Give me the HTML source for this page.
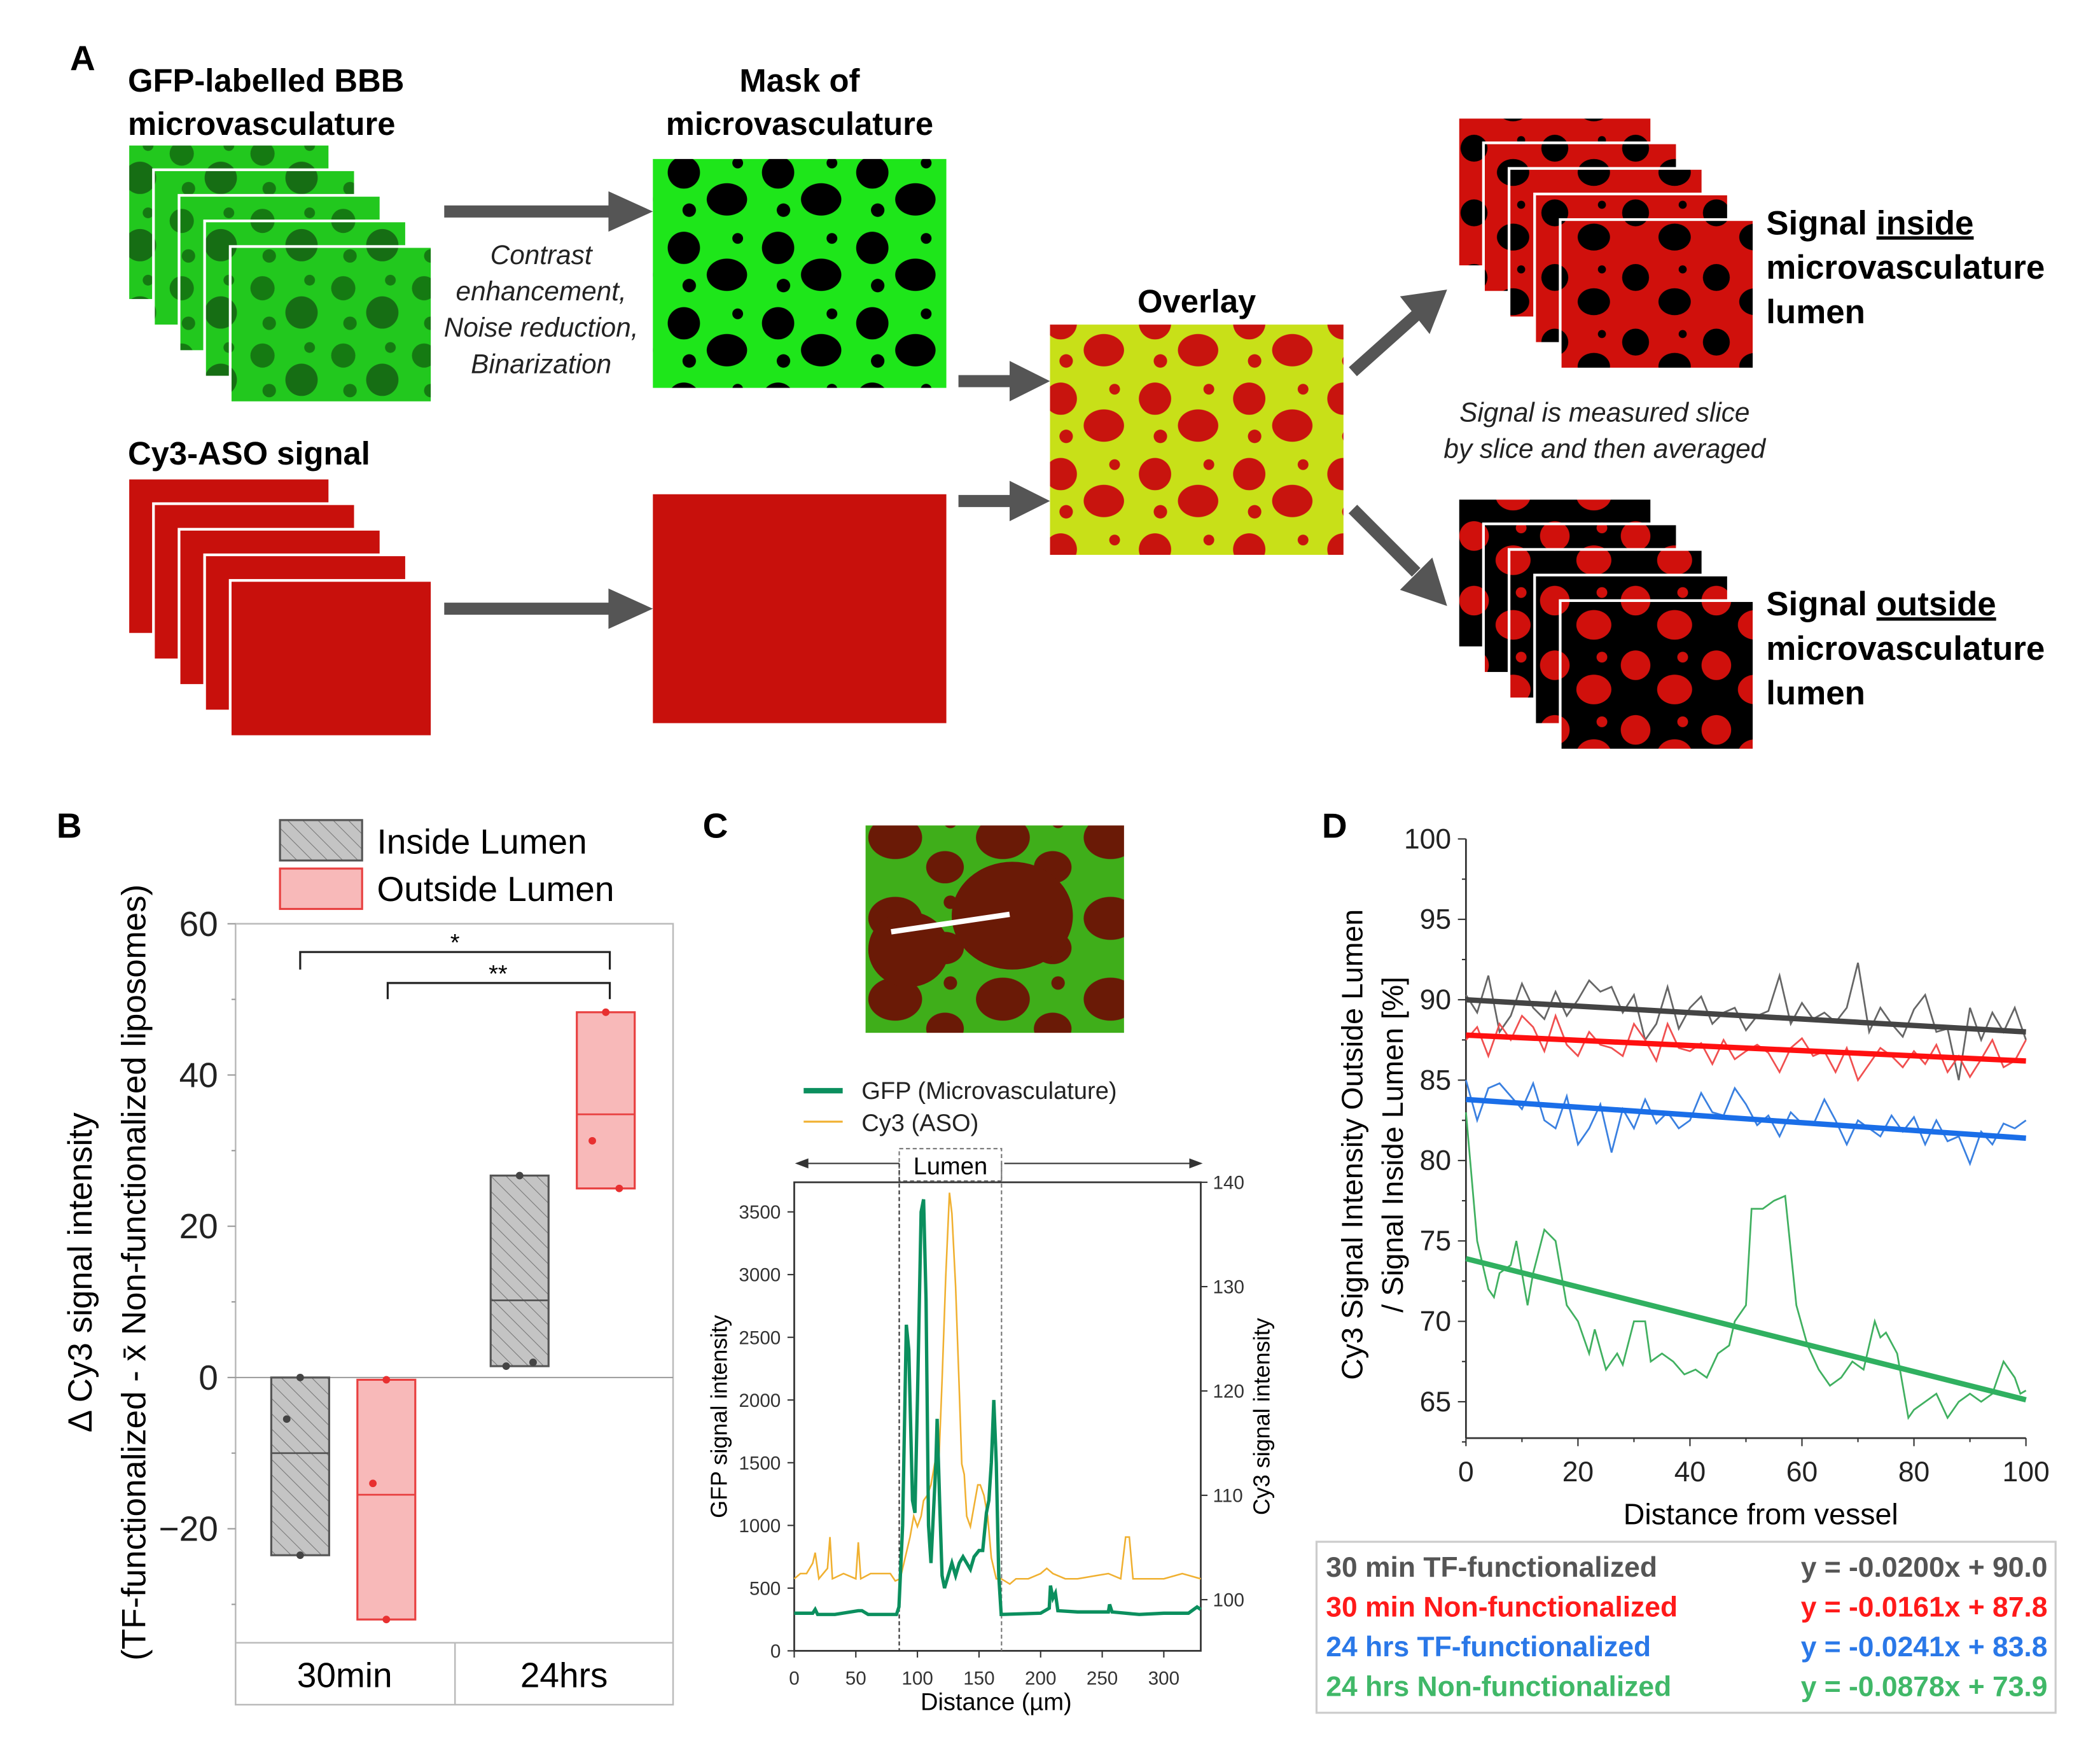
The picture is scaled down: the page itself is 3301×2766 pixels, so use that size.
<!DOCTYPE html>
<html><head><meta charset="utf-8"><style>
html,body{margin:0;padding:0;background:#fff}
svg{display:block;font-family:"Liberation Sans",Arial,sans-serif}
</style></head><body>
<svg id="fig" width="3301" height="2766" viewBox="0 0 1560 1307" xmlns="http://www.w3.org/2000/svg">
<defs>
<pattern id="hatch" width="8" height="8" patternUnits="userSpaceOnUse" patternTransform="rotate(-45)">
<rect width="8" height="8" fill="#c4c4c4"/><line x1="0" y1="0" x2="0" y2="8" stroke="#777" stroke-width="1"/></pattern>
<pattern id="hatchL" width="8" height="8" patternUnits="userSpaceOnUse" patternTransform="rotate(-45)">
<rect width="8" height="8" fill="#c4c4c4"/><line x1="0" y1="0" x2="0" y2="8" stroke="#777" stroke-width="1"/></pattern>
<pattern id="blobG" width="60" height="50" patternUnits="userSpaceOnUse">
<rect width="60" height="50" fill="#22c81e"/><circle cx="15" cy="14" r="9" fill="#157a12"/><circle cx="44" cy="32" r="12" fill="#166e14"/><circle cx="20" cy="40" r="5" fill="#157a12"/><circle cx="50" cy="8" r="4" fill="#157a12"/></pattern>
<pattern id="blobM" width="70" height="56" patternUnits="userSpaceOnUse">
<rect width="70" height="56" fill="#1ee61a"/><circle cx="18" cy="16" r="12" fill="#000"/><ellipse cx="50" cy="36" rx="15" ry="12" fill="#000"/><circle cx="22" cy="44" r="5" fill="#000"/><circle cx="58" cy="9" r="4" fill="#000"/></pattern>
<pattern id="blobO" width="70" height="56" patternUnits="userSpaceOnUse">
<rect width="70" height="56" fill="#c8e018"/><circle cx="18" cy="16" r="12" fill="#c8140e"/><ellipse cx="50" cy="36" rx="15" ry="12" fill="#c8140e"/><circle cx="22" cy="44" r="5" fill="#c8140e"/><circle cx="58" cy="9" r="4" fill="#c8140e"/></pattern>
<pattern id="blobI" width="60" height="48" patternUnits="userSpaceOnUse">
<rect width="60" height="48" fill="#d0100c"/><circle cx="15" cy="14" r="10" fill="#000"/><ellipse cx="44" cy="32" rx="12" ry="10" fill="#000"/><circle cx="50" cy="8" r="3" fill="#000"/></pattern>
<pattern id="blobX" width="60" height="48" patternUnits="userSpaceOnUse">
<rect width="60" height="48" fill="#000"/><circle cx="15" cy="14" r="11" fill="#d0100c"/><ellipse cx="44" cy="32" rx="13" ry="11" fill="#d0100c"/><circle cx="50" cy="8" r="4" fill="#d0100c"/></pattern>
<pattern id="blobC" width="80" height="60" patternUnits="userSpaceOnUse">
<rect width="80" height="60" fill="#3fae1a"/><ellipse cx="25" cy="22" rx="20" ry="16" fill="#6a1a06"/><ellipse cx="62" cy="44" rx="14" ry="12" fill="#6a1a06"/><circle cx="66" cy="10" r="5" fill="#6a1a06"/></pattern>
</defs>

<!-- PANEL A -->
<g>
<text x="52" y="52" font-size="26" font-weight="bold">A</text>
<text x="95" y="68" font-size="24" font-weight="bold"><tspan x="95">GFP-labelled BBB</tspan><tspan x="95" dy="32">microvasculature</tspan></text>
<g id="gstack"></g>
<text x="594" y="68" font-size="24" font-weight="bold" text-anchor="middle"><tspan x="594">Mask of</tspan><tspan x="594" dy="32">microvasculature</tspan></text>
<rect x="485" y="118" width="218" height="170" fill="url(#blobM)"/>
<text font-size="20" font-style="italic" text-anchor="middle" fill="#222"><tspan x="402" y="196">Contrast</tspan><tspan x="402" dy="27">enhancement,</tspan><tspan x="402" dy="27">Noise reduction,</tspan><tspan x="402" dy="27">Binarization</tspan></text>
<text x="95" y="345" font-size="24" font-weight="bold">Cy3-ASO signal</text>
<g id="rstack"></g>
<rect x="485" y="367" width="218" height="170" fill="#c8100c"/>
<text x="889" y="232" font-size="24" font-weight="bold" text-anchor="middle">Overlay</text>
<rect x="780" y="241" width="218" height="171" fill="url(#blobO)"/>
<g id="istack"></g>
<g id="ostack"></g>
<text font-size="25" font-weight="bold"><tspan x="1312" y="174">Signal <tspan text-decoration="underline">inside</tspan></tspan><tspan x="1312" dy="33">microvasculature</tspan><tspan x="1312" dy="33">lumen</tspan></text>
<text font-size="25" font-weight="bold"><tspan x="1312" y="457">Signal <tspan text-decoration="underline">outside</tspan></tspan><tspan x="1312" dy="33">microvasculature</tspan><tspan x="1312" dy="33">lumen</tspan></text>
<text font-size="20" font-style="italic" text-anchor="middle" fill="#222"><tspan x="1192" y="313">Signal is measured slice</tspan><tspan x="1192" dy="27">by slice and then averaged</tspan></text>
<g fill="#555" stroke="#555">
<line x1="330" y1="157" x2="455" y2="157" stroke-width="9"/><polygon points="452,142 485,157 452,172" stroke="none"/>
<line x1="330" y1="452" x2="455" y2="452" stroke-width="9"/><polygon points="452,437 485,452 452,467" stroke="none"/>
<line x1="712" y1="283" x2="752" y2="283" stroke-width="9"/><polygon points="750,268 780,283 750,298" stroke="none"/>
<line x1="712" y1="372" x2="752" y2="372" stroke-width="9"/><polygon points="750,357 780,372 750,387" stroke="none"/>
<line x1="1005" y1="276" x2="1052" y2="234" stroke-width="9"/><polygon points="1040,220 1075,215 1062,248" stroke="none"/>
<line x1="1005" y1="378" x2="1052" y2="425" stroke-width="9"/><polygon points="1040,438 1075,450 1064,414" stroke="none"/>
</g>
</g>

<!-- PANEL B -->
<g id="panelB">
<text x="42" y="622" font-size="26" font-weight="bold">B</text>
<rect x="208" y="609" width="61" height="30" fill="url(#hatchL)" stroke="#555" stroke-width="1.5"/>
<text x="280" y="634" font-size="26">Inside Lumen</text>
<rect x="208" y="645" width="61" height="30" fill="#f8b9b9" stroke="#e84040" stroke-width="1.5"/>
<text x="280" y="669" font-size="26">Outside Lumen</text>
<rect x="175" y="686" width="325" height="580" fill="none" stroke="#bbb" stroke-width="1.2"/>
<line x1="175" y1="1220" x2="500" y2="1220" stroke="#bbb" stroke-width="1.2"/>
<line x1="338" y1="1220" x2="338" y2="1266" stroke="#bbb" stroke-width="1.2"/>
<text x="256" y="1253" font-size="26" text-anchor="middle">30min</text>
<text x="419" y="1253" font-size="26" text-anchor="middle">24hrs</text>
<text transform="translate(68,945) rotate(-90)" font-size="25" text-anchor="middle"><tspan x="0" y="0">Δ Cy3 signal intensity</tspan><tspan x="0" dy="40">(TF-functionalized -  x̄ Non-functionalized liposomes)</tspan></text>
<g id="bAxis"></g><g id="bMarks"></g>
<g stroke="#222" stroke-width="1.5" fill="none">
<polyline points="223,720 223,707 453,707 453,720"/><polyline points="288,742 288,730 453,730 453,742"/></g>
<text x="338" y="706" font-size="18" text-anchor="middle">*</text>
<text x="370" y="729" font-size="18" text-anchor="middle">**</text>
</g>

<!-- PANEL C -->
<g id="panelC">
<text x="522" y="622" font-size="26" font-weight="bold">C</text>
<rect x="643" y="613" width="192" height="154" fill="url(#blobC)"/>
<ellipse cx="752" cy="680" rx="45" ry="40" fill="#6a1a06"/><ellipse cx="675" cy="705" rx="30" ry="28" fill="#6a1a06"/>
<line x1="662" y1="692" x2="750" y2="679" stroke="#fff" stroke-width="4"/>
<line x1="597" y1="810" x2="626" y2="810" stroke="#0b8f5e" stroke-width="4"/>
<text x="640" y="816" font-size="18" fill="#222">GFP (Microvasculature)</text>
<line x1="597" y1="833" x2="626" y2="833" stroke="#f0b030" stroke-width="1.5"/>
<text x="640" y="840" font-size="18" fill="#222">Cy3 (ASO)</text>
<g stroke="#333" stroke-width="1"><line x1="592" y1="864" x2="668" y2="864"/><polygon points="592,864 600,861 600,867" fill="#333"/><line x1="746" y1="864" x2="890" y2="864"/><polygon points="892,864 884,861 884,867" fill="#333"/></g>
<rect x="668" y="853" width="76" height="24" fill="none" stroke="#777" stroke-dasharray="3,2"/>
<text x="706" y="872" font-size="18" text-anchor="middle">Lumen</text>
<g id="cAxis"></g><g id="cMarks"></g>
<text transform="translate(540,1052) rotate(-90)" font-size="17" text-anchor="middle">GFP signal intensity</text>
<text transform="translate(943,1052) rotate(-90)" font-size="17" text-anchor="middle">Cy3 signal intensity</text>
<text x="740" y="1270" font-size="18" text-anchor="middle">Distance (µm)</text>
</g>

<!-- PANEL D -->
<g id="panelD">
<text x="982" y="622" font-size="26" font-weight="bold">D</text>
<g id="dAxis"></g><g id="dMarks"></g>
<text transform="translate(1012,850) rotate(-90)" font-size="22" text-anchor="middle"><tspan x="0" y="0">Cy3 Signal Intensity Outside Lumen</tspan><tspan x="0" dy="30">/ Signal Inside Lumen [%]</tspan></text>
<text x="1308" y="1132" font-size="22" text-anchor="middle">Distance from vessel</text>
<rect x="978" y="1145" width="549" height="127" fill="#fff" stroke="#ccc" stroke-width="1.5"/>
<g id="dLegend" font-size="21" font-weight="bold"></g>
</g>
</svg>

<script>
var NS='http://www.w3.org/2000/svg';
function mk(tag,attrs,parent){var e=document.createElementNS(NS,tag);for(var k in attrs)e.setAttribute(k,attrs[k]);parent.appendChild(e);return e;}

/* ---- Panel B data ---- */
var bCategories=['30min','24hrs'];
var bGroups=['Inside Lumen','Outside Lumen'];
var bTop=[[0,-0.3],[26.7,48.3]];
var bBottom=[[-23.5,-32],[1.5,25]];
var bMedian=[[-10,-15.5],[10.2,34.8]];
var bPoints=[[[0,-5.5,-23.5],[-0.3,-14,-32]],[[26.7,1.5,2],[48.3,31.3,25]]];
var bTicks=[60,40,20,0,-20];

/* ---- Panel C data ---- */
var gfpX=[0,15,17,19,33,52,55,60,83,85,88,91,93,96,98,100,103,105,107,109,111,113,115,116,118,120,122,125,128,131,134,137,140,143,146,150,153,156,158,160,162,164,166,168,200,207,208,210,212,214,230,255,256,258,280,300,320,327,330];
var gfpY=[300,300,330,290,290,320,320,290,290,350,1000,2600,2400,1200,1100,2000,3500,3600,2800,1000,700,1100,1500,1850,1200,600,500,600,700,600,700,750,700,650,750,800,800,1100,1200,1500,2000,1500,600,290,300,340,520,420,460,320,310,310,370,310,290,300,300,350,330];
var cy3X=[0,5,10,15,17,20,27,29,31,40,50,52,54,62,70,78,82,86,90,94,97,100,103,105,108,111,114,117,120,123,126,128,131,134,136,138,140,143,146,149,151,154,157,160,164,168,175,180,190,200,205,210,220,230,245,255,265,269,272,275,285,300,315,330];
var cy3Y=[102,102.5,102.5,103.5,104.5,102,103,106,102,102.5,102,105.5,102,102.5,102.5,102.5,101.8,102,104,106,108,107,108,109.5,110,111,113,112,121,131,139,137,130,120,113,112,108,107,109,111,111,110,108,104,102,102,101.5,102,102,102.5,103,102.5,102,102,102.3,102.5,102,106,106,102,102,102,102.5,102];
var cXTicks=[0,50,100,150,200,250,300];
var cLeftTicks=[0,500,1000,1500,2000,2500,3000,3500];
var cRightTicks=[100,110,120,130,140];

/* ---- Panel D data ---- */
var dX51=[0,2,4,6,8,10,12,14,16,18,20,22,24,26,28,30,32,34,36,38,40,42,44,46,48,50,52,54,56,58,60,62,64,66,68,70,72,74,76,78,80,82,84,86,88,90,92,94,96,98,100];
var dGray=[90.3,89.2,91.5,88,89,91,89.5,88.8,90.5,89,90,91.2,90.5,90.8,89.2,90.3,87.5,88.5,90.8,88.2,89.5,90.2,88.5,89.2,89.5,88.1,89,89.3,91.5,88.5,89.8,88.8,89.2,88.6,89.5,92.3,88,89.5,88.5,87.7,89.4,90.3,88,88.2,85,89.5,87.5,89.2,88,89.5,87.5];
var dRed=[87.5,88.3,86.5,88.5,87.5,89,88.3,86.8,89,87.2,86.5,88,87.2,87,86.5,88.5,87.5,86.2,88.5,87,86.8,87.3,86,87.5,86.3,86.8,87.2,86.7,85.5,87,87.6,86.5,86.8,85.5,87,85,86,87,86.5,85.8,86.8,86,87.2,85.5,86.5,85.2,86.3,87.5,85.8,86.2,87.5];
var dBlue=[85,82.5,84.5,84.8,84,83.2,84.8,82.5,82,84,81,82,83.5,80.5,83.2,82,83.8,82.3,83,82,82.5,84.2,83,82.8,84.5,83.5,82.2,82.8,81.5,83,82.3,82.2,83.8,82.5,81,82.5,82,81.5,82.8,81.8,82.7,81,82.5,81.2,81.5,79.8,81.8,81,82.3,82,82.5];
var dGreenX=[0,2,4,5,6,8,9,11,12,14,16,18,20,22,23,25,27,28,30,32,33,35,37,39,41,43,45,47,48,50,51,53,55,57,59,61,63,65,67,69,71,73,74,75,77,79,80,82,84,86,88,90,92,94,96,98,99,100];
var dGreen=[83,75,72,71.5,73,73.5,75,71,73,75.7,75,71,70,68,69.5,67,68,67.3,70,70,67.5,68,67.5,66.7,67,66.5,68,68.5,70,71,77,77,77.5,77.8,71,68.5,67,66,66.5,67.5,67,70,69,69.3,68,64,64.5,65,65.5,64,65,65.5,65,65.5,67.5,66.5,65.5,65.7];
var dSlopes=[-0.0200,-0.0161,-0.0241,-0.0878];
var dIntercepts=[90.0,87.8,83.8,73.9];
var dSeriesNames=['30 min TF-functionalized','30 min Non-functionalized','24 hrs TF-functionalized','24 hrs Non-functionalized'];
var dXTicks=[0,20,40,60,80,100];
var dYTicks=[65,70,75,80,85,90,95,100];

/* ---- Panel A stacks ---- */
(function(){
  function stack(id,x0,y0,w,h,n,dx,dy,fill,name){
    var g=document.getElementById(id);
    for(var i=0;i<n;i++){
      var r=mk('rect',{x:x0+i*dx,y:y0+i*dy,width:w,height:h,fill:fill,stroke:'#fff','stroke-width':2},g);
      
      
    }
  }
  stack('gstack',95,107,150,116,5,19,19,'url(#blobG)','gfp');
  stack('rstack',95,355,150,116,5,19,19,'#c8100c','cy3');
  stack('istack',1083,87,144,111,5,19,19,'url(#blobI)','inside');
  stack('ostack',1083,370,144,111,5,19,19,'url(#blobX)','outside');
})();

/* ---- Panel B draw ---- */
(function(){
  function by(v){return 1023-(v*337/60);}
  var ax=document.getElementById('bAxis');
  bTicks.forEach(function(t){
    mk('line',{x1:169,y1:by(t),x2:175,y2:by(t),stroke:'#999'},ax);
    var tx=mk('text',{x:162,y:by(t)+9,'font-size':26,'text-anchor':'end',fill:'#222'},ax);
    tx.textContent=(t<0?'\u2212'+(-t):t);
    
    
  });
  [50,30,10,-10,-30].forEach(function(t){mk('line',{x1:172,y1:by(t),x2:175,y2:by(t),stroke:'#999'},ax);});
  mk('line',{x1:175,y1:by(0),x2:500,y2:by(0),stroke:'#999','stroke-width':1},ax);
  var m=document.getElementById('bMarks');
  var cx=[256,419],off=[-33,31],w=43;
  for(var c=0;c<bCategories.length;c++){
    for(var g=0;g<bGroups.length;g++){
      var x=cx[c]+off[g]-w/2;
      var yt=by(bTop[c][g]),yb=by(bBottom[c][g]);
      var r=mk('rect',{x:x,y:yt,width:w,height:yb-yt,fill:g==0?'url(#hatch)':'#f8b9b9',stroke:g==0?'#555':'#e84040','stroke-width':1.5},m);
      
      
      mk('line',{x1:x,y1:by(bMedian[c][g]),x2:x+w,y2:by(bMedian[c][g]),stroke:g==0?'#555':'#e84040','stroke-width':1.3},m);
      var pts=bPoints[c][g],pxo=[0,-10,0];
      if(c==1){pxo=g==0?[0,-10,10]:[0,-10,10];}
      for(var p=0;p<pts.length;p++){
        var d=mk('circle',{cx:x+w/2+pxo[p],cy:by(pts[p]),r:2.8,fill:g==0?'#444':'#e83030'},m);
        
        
      }
    }
  }
})();

/* ---- Panel C draw ---- */
(function(){
  function cx(v){return 590+v*(302/330);}
  function ly(v){return 1226-v*(326/3500);}
  function ry(v){return 1188-(v-100)*(310/40);}
  var ax=document.getElementById('cAxis');
  mk('rect',{x:590,y:878,width:302,height:348,fill:'none',stroke:'#333','stroke-width':1.3},ax);
  cXTicks.forEach(function(t){
    mk('line',{x1:cx(t),y1:1226,x2:cx(t),y2:1231,stroke:'#333'},ax);
    var tx=mk('text',{x:cx(t),y:1251,'font-size':14,'text-anchor':'middle',fill:'#333'},ax);tx.textContent=t;
    
    
  });
  cLeftTicks.forEach(function(t){
    mk('line',{x1:585,y1:ly(t),x2:590,y2:ly(t),stroke:'#333'},ax);
    var tx=mk('text',{x:580,y:ly(t)+5,'font-size':14,'text-anchor':'end',fill:'#333'},ax);tx.textContent=t;
    
    
  });
  cRightTicks.forEach(function(t){
    mk('line',{x1:892,y1:ry(t),x2:897,y2:ry(t),stroke:'#333'},ax);
    var tx=mk('text',{x:901,y:ry(t)+5,'font-size':14,fill:'#333'},ax);tx.textContent=t;
    
    
  });
  mk('line',{x1:668,y1:864,x2:668,y2:1226,stroke:'#333','stroke-dasharray':'3,2'},ax);
  mk('line',{x1:744,y1:864,x2:744,y2:1226,stroke:'#777','stroke-dasharray':'3,2'},ax);
  var m=document.getElementById('cMarks');
  var p1=cy3X.map(function(x,i){return cx(x)+','+ry(cy3Y[i]);}).join(' ');
  var l1=mk('polyline',{points:p1,fill:'none',stroke:'#f0b030','stroke-width':1.2},m);
  
  
  var p2=gfpX.map(function(x,i){return cx(x)+','+ly(gfpY[i]);}).join(' ');
  var l2=mk('polyline',{points:p2,fill:'none',stroke:'#0b8f5e','stroke-width':2.5},m);
  
  
})();

/* ---- Panel D draw ---- */
(function(){
  function dx(v){return 1089+v*4.16;}
  function dy(v){return 1041-(v-65)*(418/35);}
  var ax=document.getElementById('dAxis');
  mk('line',{x1:1089,y1:623,x2:1089,y2:1068,stroke:'#333','stroke-width':1.3},ax);
  mk('line',{x1:1089,y1:1068,x2:1505,y2:1068,stroke:'#333','stroke-width':1.3},ax);
  dXTicks.forEach(function(t){
    mk('line',{x1:dx(t),y1:1068,x2:dx(t),y2:1074,stroke:'#333'},ax);
    if(t<100) mk('line',{x1:dx(t+10),y1:1068,x2:dx(t+10),y2:1071,stroke:'#333'},ax);
    var tx=mk('text',{x:dx(t),y:1100,'font-size':21,'text-anchor':'middle',fill:'#222'},ax);tx.textContent=t;
    
    
  });
  dYTicks.forEach(function(t){
    mk('line',{x1:1083,y1:dy(t),x2:1089,y2:dy(t),stroke:'#333'},ax);
    mk('line',{x1:1086,y1:dy(t-2.5),x2:1089,y2:dy(t-2.5),stroke:'#333'},ax);
    var tx=mk('text',{x:1078,y:dy(t)+7,'font-size':21,'text-anchor':'end',fill:'#222'},ax);tx.textContent=t;
    
    
  });
  var m=document.getElementById('dMarks');
  var thin=['#666','#f05050','#3a80e0','#40b060'],thick=['#444','#ff1010','#1a6ee8','#30b060'];
  var sets=[[dX51,dGray],[dX51,dRed],[dX51,dBlue],[dGreenX,dGreen]];
  for(var s=0;s<4;s++){
    var pts=sets[s][0].map(function(x,i){return dx(x)+','+dy(sets[s][1][i]);}).join(' ');
    var l=mk('polyline',{points:pts,fill:'none',stroke:thin[s],'stroke-width':1.3},m);
    
    
  }
  for(var s=0;s<4;s++){
    var f=mk('line',{x1:dx(0),y1:dy(dIntercepts[s]),x2:dx(100),y2:dy(dIntercepts[s]+dSlopes[s]*100),stroke:thick[s],'stroke-width':4},m);
    
    
  }
  var lg=document.getElementById('dLegend');
  var lcol=['#555','#ff1a1a','#2a78e8','#40b868'];
  for(var s=0;s<4;s++){
    var y=1171+s*29.5;
    var t1=mk('text',{x:985,y:y,fill:lcol[s]},lg);t1.textContent=dSeriesNames[s];
    
    
    var t2=mk('text',{x:1521,y:y,fill:lcol[s],'text-anchor':'end'},lg);
    t2.textContent='y = '+dSlopes[s].toFixed(4)+'x + '+dIntercepts[s].toFixed(1);
    
    
  }
})();
</script>
</body></html>
